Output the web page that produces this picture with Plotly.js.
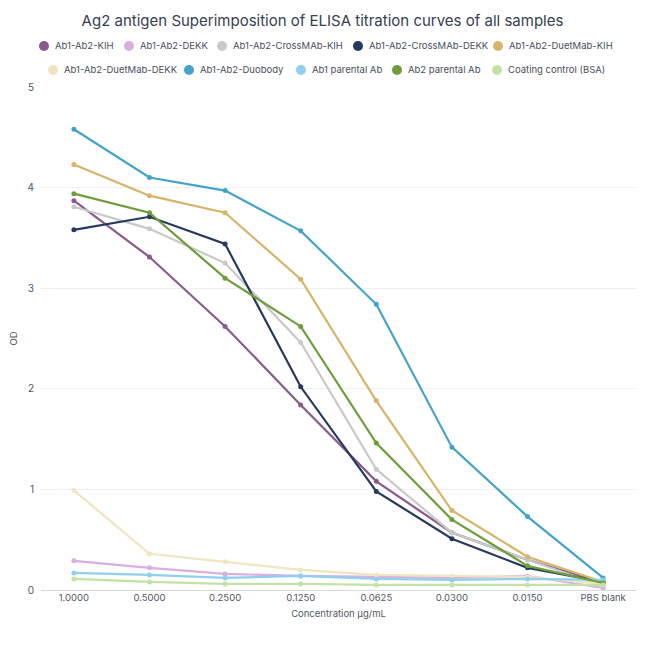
<!DOCTYPE html>
<html>
<head>
<meta charset="utf-8">
<script src="https://cdn.plot.ly/plotly-3.0.1.min.js"></script>
<style>html,body{margin:0;padding:0;background:#fff}#chart{width:645px;height:645px}</style>
</head>
<body>
<div id="chart"></div>
<script>
const categories = ["1.0000","0.5000","0.2500","0.1250","0.0625","0.0300","0.0150","PBS blank"];
const seriesNames = ["Ab1-Ab2-KIH","Ab1-Ab2-DEKK","Ab1-Ab2-CrossMAb-KIH","Ab1-Ab2-CrossMAb-DEKK","Ab1-Ab2-DuetMab-KIH","Ab1-Ab2-DuetMab-DEKK","Ab1-Ab2-Duobody","Ab1 parental Ab","Ab2 parental Ab","Coating control (BSA)"];
const kih        = [3.87, 3.31, 2.62, 1.84, 1.08, 0.57, 0.30, 0.07];
const dekk       = [0.29, 0.22, 0.16, 0.14, 0.13, 0.12, 0.14, 0.02];
const crossKih   = [3.81, 3.59, 3.25, 2.46, 1.20, 0.57, 0.30, 0.04];
const crossDekk  = [3.58, 3.71, 3.44, 2.02, 0.98, 0.51, 0.22, 0.08];
const duetKih    = [4.23, 3.92, 3.75, 3.09, 1.88, 0.79, 0.33, 0.08];
const duetDekk   = [0.99, 0.36, 0.28, 0.20, 0.15, 0.14, 0.13, 0.06];
const duobody    = [4.58, 4.10, 3.97, 3.57, 2.84, 1.42, 0.73, 0.12];
const ab1Parent  = [0.17, 0.15, 0.12, 0.14, 0.11, 0.10, 0.11, 0.10];
const ab2Parent  = [3.94, 3.75, 3.10, 2.62, 1.46, 0.70, 0.24, 0.07];
const bsa        = [0.11, 0.08, 0.06, 0.06, 0.05, 0.05, 0.05, 0.05];
const allSeries = [kih, dekk, crossKih, crossDekk, duetKih, duetDekk, duobody, ab1Parent, ab2Parent, bsa];
const colors = ["#8a5a8e","#d9afdf","#c9c9c9","#263a5e","#d6b46a","#f1e4c0","#44a3c8","#90d0ee","#6e9e3a","#c3e3a6"];

const traces = allSeries.map((ys, i) => ({
  x: categories, y: ys, type: "scatter", mode: "lines+markers",
  name: seriesNames[i], showlegend: false,
  line: {color: colors[i], width: 2.2},
  marker: {color: colors[i], size: 5}
}));

// custom legend (two centred rows, like the reference)
const W = 645, H = 645, mL = 41, mR = 9, mT = 87, mB = 55;
const pw = W - mL - mR, ph = H - mT - mB;
const legendPx = [[44,46],[129,46],[222,46],[358,46],[498,46],[53,70],[189,70],[301,70],[397,70],[497,70]];
const shapes = [], annotations = [];
legendPx.forEach((p, i) => {
  const xp = (p[0] - mL) / pw, yp = (H - mB - p[1]) / ph;
  shapes.push({type: "circle", xref: "paper", yref: "paper", xsizemode: "pixel", ysizemode: "pixel",
    xanchor: xp, yanchor: yp, x0: -5, x1: 5, y0: -5, y1: 5,
    fillcolor: colors[i], line: {width: 0}});
  annotations.push({xref: "paper", yref: "paper", x: (p[0] + 9 - mL) / pw, y: yp,
    xanchor: "left", yanchor: "middle", showarrow: false, text: seriesNames[i],
    font: {size: 9.5, color: "#474f5c"}});
});

const layout = {
  width: W, height: H,
  paper_bgcolor: "#fff", plot_bgcolor: "#fff",
  font: {family: "Inter, 'Noto Sans', sans-serif", color: "#474f5c", size: 10},
  title: {text: "Ag2 antigen Superimposition of ELISA titration curves of all samples",
          font: {size: 15, color: "#36404f"}, x: 0.5, xanchor: "center", y: 0.968, yanchor: "middle"},
  margin: {l: mL, r: mR, t: mT, b: mB},
  showlegend: false,
  shapes: shapes, annotations: annotations,
  xaxis: {type: "category", showgrid: false, zeroline: false, showline: false,
          ticks: "", tickfont: {size: 9.5, color: "#4f5866"},
          title: {text: "Concentration µg/mL", font: {size: 9.5, color: "#4f5866"}, standoff: 8}},
  yaxis: {range: [0, 5], dtick: 1, showgrid: true, gridcolor: "#efefef", zeroline: true,
          zerolinecolor: "#d8d8d8", zerolinewidth: 1, showline: false, ticks: "",
          tickfont: {size: 10, color: "#4f5866"}, ticklabelstandoff: 6,
          title: {text: "OD", font: {size: 9.5, color: "#4f5866"}, standoff: 8}}
};
Plotly.newPlot("chart", traces, layout, {displayModeBar: false, staticPlot: true});
</script>
</body>
</html>
